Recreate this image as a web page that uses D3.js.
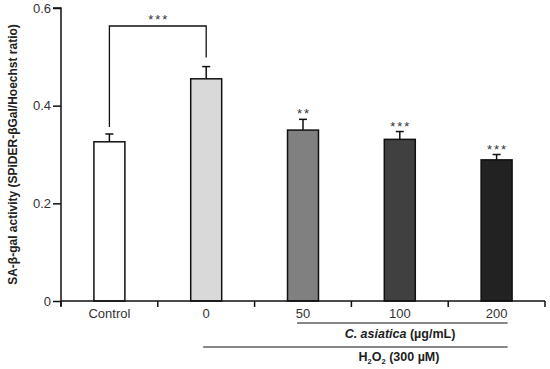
<!DOCTYPE html>
<html>
<head>
<meta charset="utf-8">
<script src="https://cdn.jsdelivr.net/npm/d3@7"></script>
<style>
  body { margin: 0; background: #fff; }
  text { font-family: "Liberation Sans", Arial, sans-serif; }
</style>
</head>
<body>
<div id="plot"></div>
<script>
const groups = ['Control', '0', '50', '100', '200'];
const means = [0.326, 0.455, 0.350, 0.331, 0.289];
const sems = [0.016, 0.025, 0.022, 0.016, 0.011];
const stars = ['', '', '**', '***', '***'];
const fills = ['#ffffff', '#d9d9d9', '#808080', '#404040', '#222222'];
const yTicks = [0, 0.2, 0.4, 0.6];

const width = 550, height = 369;
const margin = {t: 8, r: 5, b: 68, l: 61};

const svg = d3.select('#plot').append('svg')
    .attr('width', width)
    .attr('height', height);

const x = d3.scaleBand()
    .domain(groups)
    .range([margin.l, 545])
    .paddingInner(0.68)
    .paddingOuter(0.34);

const y = d3.scaleLinear()
    .domain([0, 0.6])
    .range([301, margin.t]);

// bars
svg.append('g').selectAll('rect')
    .data(groups)
    .join('rect')
    .attr('x', d => x(d))
    .attr('y', (d, i) => y(means[i]))
    .attr('width', x.bandwidth())
    .attr('height', (d, i) => y(0) - y(means[i]))
    .attr('fill', (d, i) => fills[i])
    .attr('stroke', '#111')
    .attr('stroke-width', 1.5);

// error bars (upper only)
const err = svg.append('g').attr('stroke', '#111').attr('stroke-width', 1.5);
groups.forEach((g, i) => {
    const cx = x(g) + x.bandwidth() / 2;
    err.append('line')
        .attr('x1', cx).attr('x2', cx)
        .attr('y1', y(means[i])).attr('y2', y(means[i] + sems[i]));
    err.append('line')
        .attr('x1', cx - 4).attr('x2', cx + 4)
        .attr('y1', y(means[i] + sems[i])).attr('y2', y(means[i] + sems[i]));
});

// significance stars
svg.append('g').selectAll('text')
    .data(groups)
    .join('text')
    .attr('x', d => x(d) + x.bandwidth() / 2 + 1)
    .attr('y', (d, i) => y(means[i] + sems[i]) - 1)
    .attr('text-anchor', 'middle')
    .attr('font-size', 13)
    .attr('letter-spacing', 2)
    .attr('fill', '#333')
    .text((d, i) => stars[i]);

// bracket between control and 0
const c0 = x('Control') + x.bandwidth() / 2;
const c1 = x('0') + x.bandwidth() / 2;
const by = 26;
svg.append('path')
    .attr('d', `M${c0},${y(means[0] + sems[0]) - 7}V${by}H${c1}V${y(means[1] + sems[1]) - 9}`)
    .attr('fill', 'none')
    .attr('stroke', '#111')
    .attr('stroke-width', 1.3);
svg.append('text')
    .attr('x', (c0 + c1) / 2 + 1)
    .attr('y', by - 2)
    .attr('text-anchor', 'middle')
    .attr('font-size', 13)
    .attr('letter-spacing', 2)
    .attr('fill', '#333')
    .text('***');

// y axis
const yAxis = svg.append('g')
    .attr('transform', `translate(${margin.l},0)`)
    .call(d3.axisLeft(y).tickValues(yTicks).tickSize(8).tickFormat(d => d === 0 ? '0' : d3.format('.1f')(d)));
yAxis.select('.domain').attr('stroke', '#111').attr('stroke-width', 1.5).attr('d', `M-8,${y(0.6)}H0V${y(0) + 5}`);
yAxis.selectAll('.tick line').attr('stroke', '#111').attr('stroke-width', 1.5);
yAxis.selectAll('.tick text').attr('font-size', 13).attr('fill', '#333').attr('x', -10)
    .style('font-family', '"Liberation Sans", Arial, sans-serif');

// x axis with ticks at band boundaries
const step = x.step();
const bounds = d3.range(groups.length + 1).map(i => margin.l + i * step);
const xg = svg.append('g').attr('stroke', '#111').attr('stroke-width', 1.5);
xg.append('line').attr('x1', margin.l).attr('x2', bounds[bounds.length - 1]).attr('y1', y(0)).attr('y2', y(0));
xg.selectAll('line.tk')
    .data(bounds)
    .join('line')
    .attr('class', 'tk')
    .attr('x1', d => d).attr('x2', d => d)
    .attr('y1', y(0)).attr('y2', y(0) + 6);

svg.append('g').selectAll('text')
    .data(groups)
    .join('text')
    .attr('x', d => x(d) + x.bandwidth() / 2)
    .attr('y', 318)
    .attr('text-anchor', 'middle')
    .attr('font-size', 13)
    .attr('fill', '#333')
    .text(d => d);

// group lines and labels
const c50 = x('50') + x.bandwidth() / 2;
const c200 = x('200') + x.bandwidth() / 2;
svg.append('line')
    .attr('x1', c50 - 6).attr('x2', c200 + 11)
    .attr('y1', 323).attr('y2', 323)
    .attr('stroke', '#111').attr('stroke-width', 1.2);
const lab1 = svg.append('text')
    .attr('x', 400)
    .attr('y', 338)
    .attr('text-anchor', 'middle')
    .attr('font-size', 12.5)
    .attr('font-weight', 'bold')
    .attr('fill', '#222');
lab1.append('tspan').attr('font-style', 'italic').text('C. asiatica');
lab1.append('tspan').text(' (µg/mL)');

svg.append('line')
    .attr('x1', c1 - 3).attr('x2', c200 + 11)
    .attr('y1', 347).attr('y2', 347)
    .attr('stroke', '#111').attr('stroke-width', 1.2);
const lab2 = svg.append('text')
    .attr('x', 399)
    .attr('y', 361)
    .attr('text-anchor', 'middle')
    .attr('font-size', 12.5)
    .attr('font-weight', 'bold')
    .attr('fill', '#222');
lab2.append('tspan').text('H');
lab2.append('tspan').attr('font-size', 7.5).attr('dy', 3).text('2');
lab2.append('tspan').attr('dy', -3).text('O');
lab2.append('tspan').attr('font-size', 7.5).attr('dy', 3).text('2');
lab2.append('tspan').attr('dy', -3).text(' (300 µM)');

// y axis title
svg.append('text')
    .attr('transform', `translate(17,${(y(0) + y(0.6)) / 2}) rotate(-90)`)
    .attr('text-anchor', 'middle')
    .attr('font-size', 12)
    .attr('font-weight', 'bold')
    .attr('fill', '#222')
    .text('SA-β-gal activity (SPiDER-βGal/Hoechst ratio)');
</script>
</body>
</html>
